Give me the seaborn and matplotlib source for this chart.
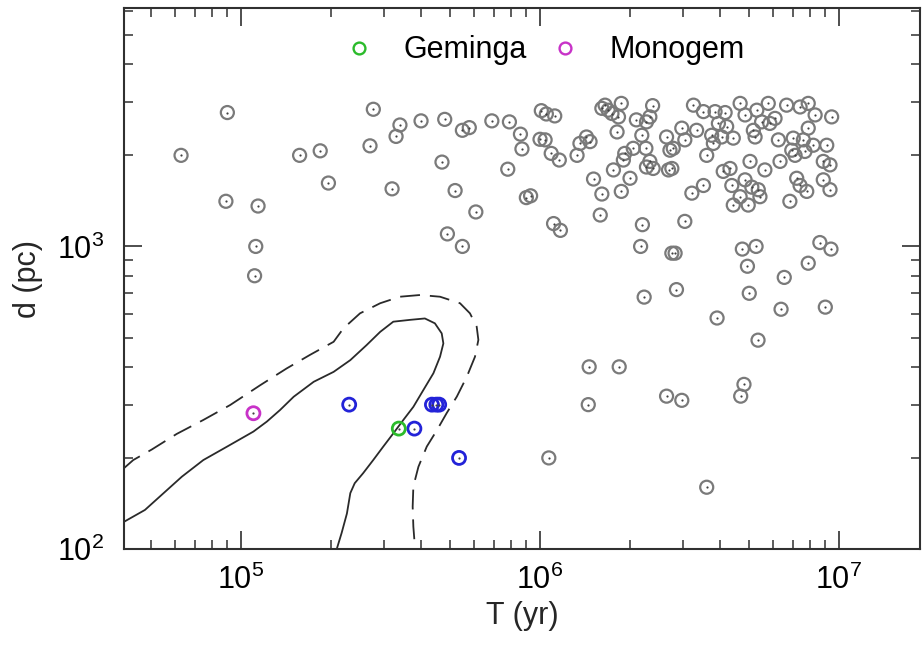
import numpy as np
import matplotlib
matplotlib.use("Agg")
import matplotlib.pyplot as plt
from matplotlib.ticker import NullFormatter, LogLocator
from matplotlib.lines import Line2D
import seaborn as sns

# ---------------- data ----------------
# grey pulsars: age T (yr), distance d (pc)
T_gray = [9.0e4, 6.3e4, 1.57e5, 1.84e5, 1.96e5, 8.9e4, 1.14e5, 1.12e5, 1.11e5,
          2.77e5, 3.4e5, 4.0e5, 4.8e5, 3.3e5, 2.7e5, 5.5e5, 5.8e5, 6.9e5, 7.9e5,
          8.6e5, 8.7e5, 1.01e6, 1.05e6, 1.0e6, 1.04e6, 4.7e5, 7.8e5, 3.2e5, 5.2e5,
          9.0e5, 9.3e5, 6.1e5, 4.9e5, 5.5e5,
          1.12e6, 1.09e6, 1.16e6, 1.33e6, 1.36e6, 1.43e6, 1.47e6, 1.61e6, 1.65e6,
          1.69e6, 1.74e6, 1.87e6, 1.83e6, 1.81e6, 1.51e6, 1.61e6, 1.76e6, 1.87e6,
          2.00e6, 1.92e6, 1.90e6, 2.05e6, 2.10e6, 2.27e6, 2.33e6, 2.38e6, 2.19e6,
          2.26e6, 2.27e6, 2.33e6, 2.39e6, 2.69e6, 2.76e6, 2.65e6, 2.72e6, 2.79e6,
          2.98e6, 3.05e6, 3.26e6, 3.34e6, 3.22e6, 3.52e6, 3.85e6, 4.16e6, 3.95e6,
          4.21e6, 3.75e6, 4.05e6, 4.43e6, 3.80e6, 3.61e6, 4.67e6, 4.85e6, 5.31e6,
          5.51e6, 5.80e6, 5.87e6, 6.11e6, 5.17e6, 5.24e6, 6.27e6, 6.68e6, 7.41e6,
          7.89e6, 8.32e6, 9.45e6, 7.89e6, 7.03e6, 7.60e6, 8.20e6, 9.10e6, 6.95e6,
          7.13e6, 7.69e6, 5.04e6, 5.65e6, 6.35e6, 4.10e6, 4.32e6, 8.86e6, 9.33e6,
          3.52e6, 4.38e6, 4.85e6, 5.11e6, 5.37e6, 5.44e6, 4.67e6, 4.43e6, 4.97e6,
          7.22e6, 7.41e6, 7.80e6, 8.86e6, 9.33e6, 6.85e6, 1.59e6, 1.11e6, 1.17e6,
          2.20e6, 3.05e6, 2.17e6, 2.76e6, 2.83e6, 4.75e6, 5.28e6, 8.63e6, 9.40e6,
          4.94e6, 7.89e6, 6.56e6, 2.23e6, 2.86e6, 5.01e6, 6.40e6, 9.0e6, 3.91e6,
          5.36e6, 1.46e6, 1.84e6, 4.81e6, 2.65e6, 2.98e6, 4.69e6, 1.45e6, 1.07e6,
          3.61e6]
d_gray = [2770, 2000, 2000, 2070, 1620, 1410, 1360, 1000, 800,
          2840, 2520, 2600, 2630, 2310, 2150, 2420, 2470, 2600, 2580,
          2350, 2100, 2810, 2740, 2260, 2250, 1900, 1800, 1550, 1530,
          1450, 1470, 1300, 1100, 1000,
          2700, 2030, 1930, 2000, 2190, 2300, 2220, 2860, 2930,
          2820, 2750, 2970, 2680, 2390, 1670, 1490, 1790, 1520,
          1680, 2030, 1930, 2110, 2620, 2580, 2680, 2920, 2330,
          2110, 1830, 1910, 1810, 1790, 1810, 2300, 2080, 2110,
          2460, 2250, 2930, 2420, 1500, 2790, 2790, 2770, 2550,
          2490, 2330, 2300, 2280, 2190, 2000, 2970, 2720, 2820,
          2580, 2970, 2550, 2650, 2420, 2300, 2250, 2930, 2890,
          2970, 2720, 2680, 2460, 2280, 2250, 2160, 2160, 2080,
          2000, 2060, 1910, 1790, 1910, 1770, 1810, 1910, 1860,
          1590, 1590, 1660, 1570, 1540, 1460, 1460, 1370, 1370,
          1680, 1590, 1520, 1660, 1540, 1410, 1270, 1190, 1130,
          1180, 1210, 1000, 950, 950, 980, 1000, 1030, 980,
          860, 880, 790, 680, 720, 700, 620, 630, 580,
          490, 400, 400, 350, 320, 310, 320, 300, 200,
          160]

# nearby pulsars (blue)
T_blue = [2.3e5, 3.8e5, 4.35e5, 4.5e5, 4.6e5, 5.36e5]
d_blue = [300, 250, 300, 300, 300, 200]

# named pulsars
T_geminga, d_geminga = [3.37e5], [250]
T_monogem, d_monogem = [1.1e5], [281]
legend_labels = ["Geminga", "Monogem"]

# contours
T_solid = [4.06e4, 4.77e4, 5.50e4, 6.34e4, 7.48e4, 8.96e4, 1.10e5, 1.22e5, 1.35e5,
           1.50e5, 1.75e5, 2.04e5, 2.32e5, 2.63e5, 2.92e5, 3.23e5, 3.68e5, 4.12e5,
           4.45e5, 4.69e5, 4.75e5, 4.63e5, 4.40e5, 4.07e5, 3.77e5, 3.49e5, 3.23e5,
           2.99e5, 2.77e5, 2.56e5, 2.40e5, 2.32e5, 2.26e5, 2.17e5, 2.09e5]
d_solid = [123, 134.6, 152.8, 173.4, 196.8, 217.7, 244.4, 263.7, 287.9,
           318.6, 357, 385, 421, 472, 522, 564, 572, 578,
           557, 516, 478, 432, 381, 335, 295, 267, 241,
           218, 197, 178, 165, 153, 131, 113, 100]
T_dash = [4.06e4, 4.36e4, 5.02e4, 6.09e4, 7.48e4, 9.19e4, 1.16e5, 1.42e5, 1.70e5,
          2.04e5, 2.20e5, 2.50e5, 2.92e5, 3.40e5, 3.97e5, 4.63e5, 5.40e5, 5.83e5,
          6.14e5, 6.22e5, 6.06e5, 5.69e5, 5.27e5, 4.87e5, 4.52e5, 4.18e5, 3.92e5,
          3.77e5, 3.75e5, 3.77e5, 3.82e5]
d_dash = [185, 196.8, 213, 240, 267, 299, 348, 395, 438,
          484, 536, 601, 649, 682, 691, 682, 649, 601,
          543, 491, 432, 371, 319, 281, 247, 218, 187,
          161, 138, 118.5, 100]

# ---------------- style ----------------
sns.set_style("white")
plt.rcParams["font.family"] = ["Liberation Sans", "DejaVu Sans"]
plt.rcParams["mathtext.fontset"] = "custom"
plt.rcParams["mathtext.rm"] = "Liberation Sans"

FS = 22
GREY = "#7a7a7a"
DOT = "#404040"
BLUE = "#2323d8"
GREEN = "#2bbb2b"
MAGENTA = "#c832c8"
LINE = "#2a2a2a"

fig = plt.figure(figsize=(9.23, 6.48), dpi=100)
ax = fig.add_axes([124 / 923, 1 - 549 / 648, (920 - 124) / 923, (549 - 8) / 648])
ax.set_xscale("log")
ax.set_yscale("log")

# contours
sns.lineplot(x=T_solid, y=d_solid, sort=False, estimator=None, ax=ax,
             color=LINE, linewidth=1.3, zorder=2)
sns.lineplot(x=T_dash, y=d_dash, sort=False, estimator=None, ax=ax,
             color=LINE, linewidth=1.3, zorder=2)
ax.lines[-1].set_dashes([11, 5.5])


def rings(x, y, col, lw, s=88):
    sns.scatterplot(x=x, y=y, ax=ax, s=s, color=col, linewidth=lw,
                    legend=False, zorder=3)
    c = ax.collections[-1]
    c.set_facecolor("none")
    c.set_edgecolor(col)
    c.set_linewidth(lw)
    sns.scatterplot(x=x, y=y, ax=ax, s=2.5, color=DOT, linewidth=0,
                    legend=False, zorder=4)


rings(T_gray, d_gray, GREY, 1.6)
rings(T_blue, d_blue, BLUE, 2.0)
rings(T_geminga, d_geminga, GREEN, 2.0)
rings(T_monogem, d_monogem, MAGENTA, 2.0)

ax.set_xlim(4.06e4, 1.866e7)
ax.set_ylim(100, 6138)

ax.xaxis.set_major_locator(LogLocator(base=10))
ax.yaxis.set_major_locator(LogLocator(base=10))
ax.xaxis.set_minor_formatter(NullFormatter())
ax.yaxis.set_minor_formatter(NullFormatter())

ax.tick_params(which="both", direction="in", top=True, right=True,
               bottom=True, left=True, colors="#303030", labelcolor="black")
ax.tick_params(which="major", length=13, width=1.2, labelsize=FS)
ax.tick_params(which="minor", length=6.5, width=1.1)
ax.tick_params(axis="x", which="major", pad=11)
ax.tick_params(axis="y", which="major", pad=14)
for sp in ax.spines.values():
    sp.set_linewidth(1.5)
    sp.set_color("#303030")

ax.set_xlabel("T (yr)", fontsize=FS, labelpad=4)
ax.set_ylabel("d (pc)", fontsize=FS, labelpad=10)

handles = [Line2D([], [], linestyle="none", marker="o", markersize=8.5,
                  markerfacecolor="none", markeredgecolor=GREEN, markeredgewidth=1.7),
           Line2D([], [], linestyle="none", marker="o", markersize=8.5,
                  markerfacecolor="none", markeredgecolor=MAGENTA, markeredgewidth=1.7)]
leg = ax.legend(handles, legend_labels, loc="center", bbox_to_anchor=(0.530, 0.922),
                ncol=2, frameon=False, fontsize=FS, handlelength=0.8,
                handletextpad=1.07, columnspacing=0.84, borderpad=0.2)
for t in leg.get_texts():
    t.set_color("black")

fig.savefig("out.png", dpi=100)
